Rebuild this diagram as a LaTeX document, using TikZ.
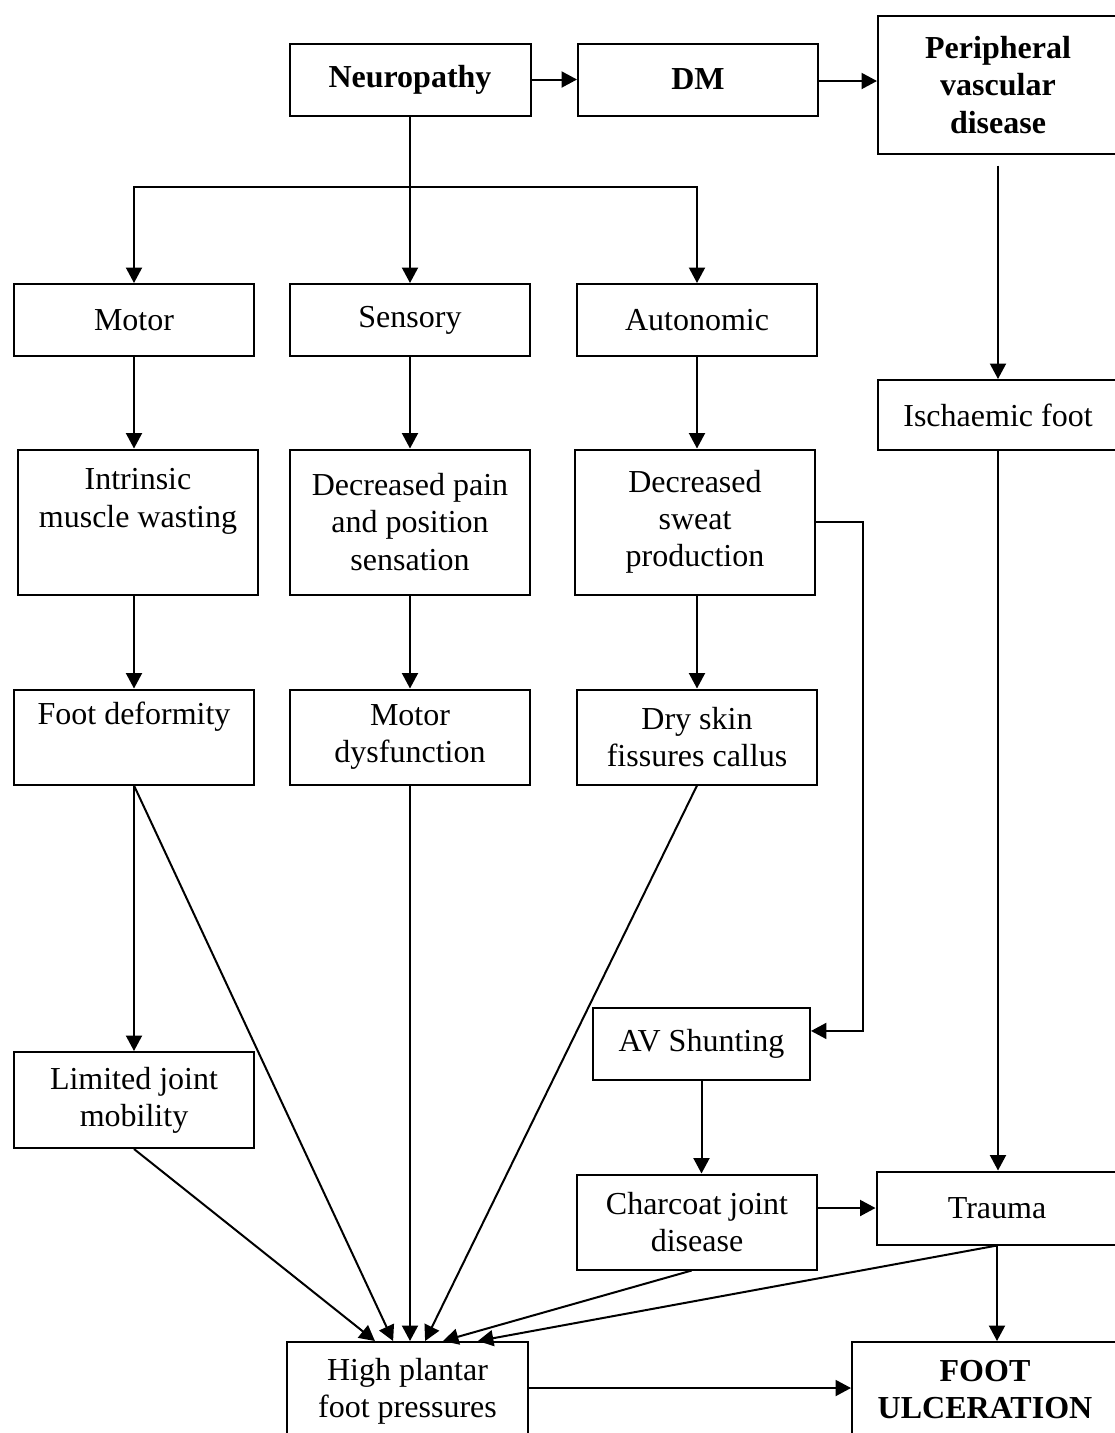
\documentclass[tikz,border=0pt]{standalone}
\usepackage{fontspec}
\setmainfont{Liberation Serif}
\usetikzlibrary{arrows.meta}
\begin{document}
\begin{tikzpicture}[x=0.375pt,y=-0.375pt,
  box/.style={draw, line width=0.75pt, align=center, inner sep=0pt, font=\fontsize{12}{13.9}\selectfont},
  bbox/.style={box, font=\fontsize{12}{13.9}\selectfont\bfseries},
  sz/.style 2 args={minimum width=#1*0.375pt, minimum height=#2*0.375pt},
  ln/.style={line width=0.75pt},
  arr/.style={line width=0.75pt, -{Triangle[length=5.8pt,width=6pt]}}]
\useasboundingbox (0,0) rectangle (1115,1433);
\clip (0,0) rectangle (1115,1433);
% top row
\node[bbox, sz={241}{72}] (neuro) at (410,79.5) {Neuropathy};
\node[bbox, sz={240}{72}] (dm) at (698,79.5) {DM};
\node[bbox, sz={240}{138}] (pvd) at (998,85) {Peripheral\\vascular\\disease};
% second row
\node[box, sz={240}{72}] (motor) at (134,320) {Motor};
\node[box, sz={240}{72}] (sensory) at (410,320) {Sensory};
\node[box, sz={240}{72}] (auto) at (697,320) {Autonomic};
\node[box, sz={240}{70}] (isch) at (998,415) {Ischaemic foot};
% third row
\node[box, sz={240}{145}] (intr) at (138,522) {Intrinsic\\muscle wasting\\\strut};
\node[box, sz={240}{145}] (pain) at (410,522) {Decreased pain\\and position\\sensation};
\node[box, sz={240}{145}] (sweat) at (695,522) {Decreased\\sweat\\production};
% fourth row
\node[box, sz={240}{95}] (deform) at (134,737) {Foot deformity\\\strut};
\node[box, sz={240}{95}] (motdys) at (410,737) {Motor\\dysfunction};
\node[box, sz={240}{95}] (dry) at (697,737) {Dry skin\\fissures callus};
% lower
\node[box, sz={217}{72}] (av) at (701.5,1044) {AV Shunting};
\node[box, sz={240}{96}] (limited) at (134,1100) {Limited joint\\mobility};
\node[box, sz={240}{95}] (charc) at (697,1222) {Charcoat joint\\disease};
\node[box, sz={241}{73}] (trauma) at (997,1208) {Trauma};
\node[box, sz={241}{98}] (high) at (407.5,1391) {High plantar\\foot pressures};
\node[bbox, sz={266}{96}] (ulcer) at (985,1390) {FOOT\\ULCERATION};
% connectors top
\draw[arr] (neuro.east) -- (dm.west);
\draw[arr] (dm.east |- 0,81) -- (pvd.west |- 0,81);
\coordinate (br) at (410,187);
\draw[ln] (neuro.south) -- (br);
\draw[arr] (br) -| (motor.north);
\draw[arr] (br) -- (sensory.north);
\draw[arr] (br) -| (auto.north);
\draw[arr] ([yshift=-4pt]pvd.south) -- (isch.north);
% columns
\draw[arr] (motor.south) -- (motor.south |- intr.north);
\draw[arr] (sensory.south) -- (pain.north);
\draw[arr] (auto.south) -- (auto.south |- sweat.north);
\draw[arr] (motor.south |- intr.south) -- (motor.south |- deform.north);
\draw[arr] (pain.south) -- (motdys.north);
\draw[arr] (auto.south |- sweat.south) -- (dry.north);
\draw[arr] (deform.south) -- (limited.north);
\draw[arr] (sweat.east) -- ++(47,0) |- ([yshift=4.9pt]av.east);
\draw[arr] (av.south) -- (av.south |- charc.north);
\draw[arr] (charc.east |- trauma.west) -- (trauma.west);
\draw[arr] (isch.south) -- (isch.south |- trauma.north);
\draw[arr] (trauma.south) -- (trauma.south |- ulcer.north);
\draw[arr] (high.east |- 0,1388) -- (ulcer.west |- 0,1388);
% converging arrows
\draw[arr] (limited.south) -- ([xshift=-12.2pt]high.north);
\draw[arr] (deform.south) -- ([xshift=-5.4pt]high.north);
\draw[arr] (motdys.south) -- (motdys.south |- high.north);
\draw[arr] (dry.south) -- ([xshift=6.6pt]high.north);
\draw[arr] ([xshift=-2pt]charc.south) -- ([xshift=13.3pt]high.north);
\draw[arr] (trauma.south) -- ([xshift=26.4pt]high.north);
\end{tikzpicture}
\end{document}
